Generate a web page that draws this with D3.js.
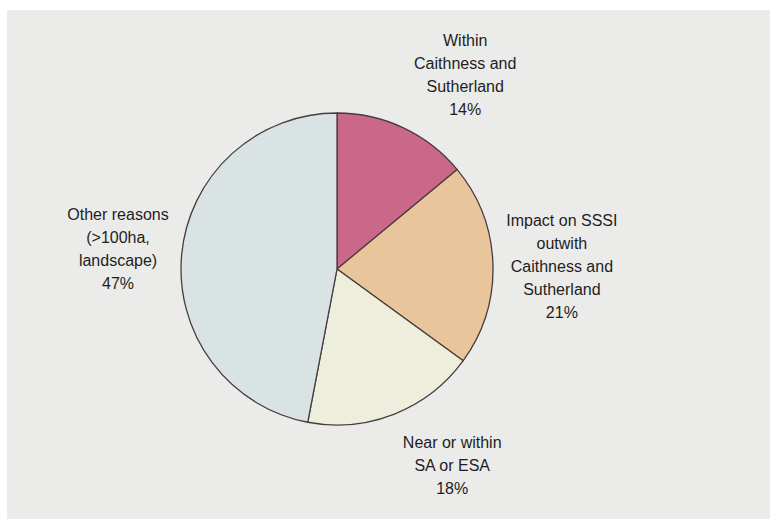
<!DOCTYPE html>
<html>
<head>
<meta charset="utf-8">
<script src="https://cdn.jsdelivr.net/npm/d3@7/dist/d3.min.js"></script>
<style>
  html, body { margin: 0; padding: 0; background: #ffffff; }
  svg { display: block; }
</style>
</head>
<body>
<svg id="chart" width="779" height="527"></svg>
<script>
// Reasons for objection, share of cases (%)
const categories = [
  "Within Caithness and Sutherland",
  "Impact on SSSI outwith Caithness and Sutherland",
  "Near or within SA or ESA",
  "Other reasons (>100ha, landscape)"
];
const values = [14, 21, 18, 47];
const labelLines = [
  ["Within", "Caithness and", "Sutherland", "14%"],
  ["Impact on SSSI", "outwith", "Caithness and", "Sutherland", "21%"],
  ["Near or within", "SA or ESA", "18%"],
  ["Other reasons", "(>100ha,", "landscape)", "47%"]
];
const colors = ["#cb6889", "#e8c59b", "#edefdc", "#d9e3e3"];

const W = 779, H = 527;
const cx = 337, cy = 269, R = 156;
const labelR = 226;
// fine placement of each label block around its slice direction
const labelNudge = [[32, 10], [-1, 4], [32, -14], [6, 1]];
const lineH = 23;

const svg = d3.select("#chart");

// paper panel
svg.append("rect")
  .attr("x", 7).attr("y", 10)
  .attr("width", 763).attr("height", 509)
  .attr("fill", "#ebebea");

const data = categories.map((c, i) => ({ name: c, value: values[i], lines: labelLines[i], i }));

const pie = d3.pie().value(d => d.value).sort(null);
const arcs = pie(data);
const arc = d3.arc().innerRadius(0).outerRadius(R);

const g = svg.append("g").attr("transform", `translate(${cx},${cy})`);

g.selectAll("path.slice")
  .data(arcs)
  .join("path")
  .attr("class", "slice")
  .attr("d", arc)
  .attr("fill", d => colors[d.data.i])
  .attr("stroke", "#4a3c3e")
  .attr("stroke-width", 1.3)
  .attr("stroke-linejoin", "round");

// labels
g.selectAll("text.lab")
  .data(arcs)
  .join("text")
  .attr("class", "lab")
  .attr("text-anchor", "middle")
  .attr("font-family", "'Liberation Sans', Arial, Helvetica, sans-serif")
  .attr("font-size", 16)
  .attr("fill", "#1e1e1e")
  .each(function (d) {
    const a = (d.startAngle + d.endAngle) / 2;
    const nudge = labelNudge[d.data.i];
    const x = Math.sin(a) * labelR + nudge[0];
    const y = -Math.cos(a) * labelR + nudge[1];
    const n = d.data.lines.length;
    const top = y - (n - 1) * lineH / 2;
    d3.select(this).selectAll("tspan")
      .data(d.data.lines)
      .join("tspan")
      .attr("x", x)
      .attr("y", (t, k) => top + k * lineH)
      .attr("dy", "0.35em")
      .text(t => t);
  });
</script>
</body>
</html>
